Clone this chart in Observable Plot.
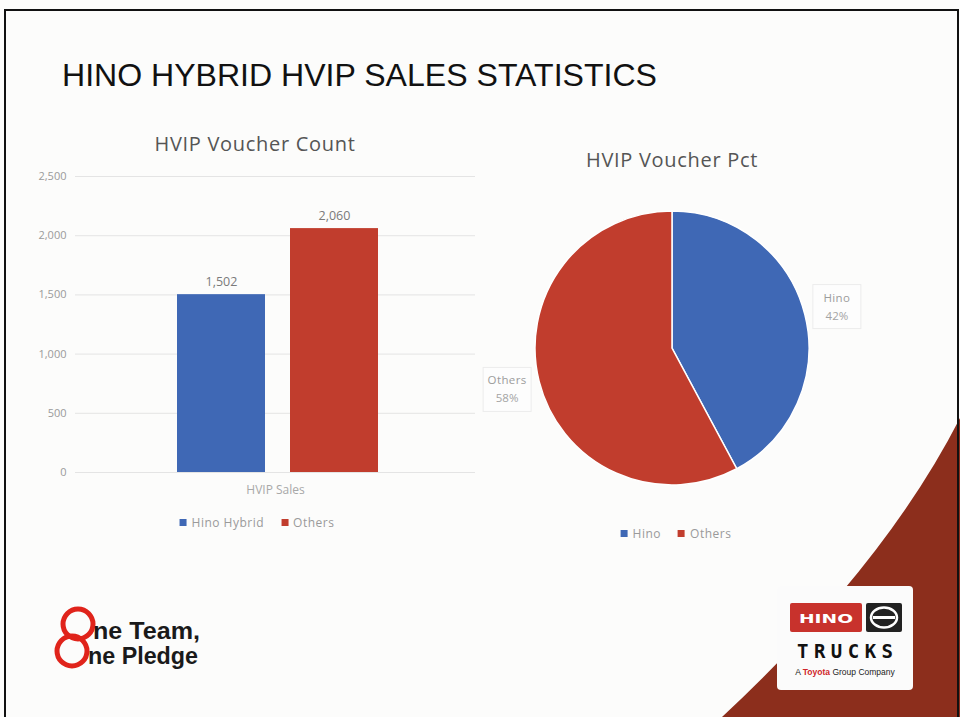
<!DOCTYPE html>
<html><head><meta charset="utf-8">
<script src="https://cdn.jsdelivr.net/npm/d3@7"></script>
<script src="https://cdn.jsdelivr.net/npm/@observablehq/plot@0.6"></script>
<style>
html,body{margin:0;padding:0;background:#fff;}
#page{position:relative;width:960px;height:717px;overflow:hidden;background:#fcfcfb;font-family:"Open Sans",sans-serif;}
.abs{position:absolute;}
.ctitle{position:absolute;color:#555;font-family:"Open Sans",sans-serif;font-size:20px;letter-spacing:0.7px;white-space:nowrap;transform:translateX(-50%);}
.legend{position:absolute;display:flex;align-items:center;font-size:12px;letter-spacing:0.5px;color:#9a9a9a;white-space:nowrap;transform:translateX(-50%);}
.legend .sw{display:inline-block;width:7px;height:7px;margin-right:5px;}
.legend .it{display:flex;align-items:center;margin-right:17px;}
.legend .it:last-child{margin-right:0;}
</style></head><body><div id="page"></div>
<script>
// ---- data ----
const categories = ["HVIP Sales"];
const series = ["Hino Hybrid", "Others"];
const counts = [1502, 2060];
const pieLabels = ["Hino", "Others"];
const pieValues = [1502, 2060];
const yTicks = [0, 500, 1000, 1500, 2000, 2500];
const colors = ["#3f68b5", "#c13d2d"];

const page = document.getElementById("page");

// ---- slide decorations (background) ----
const bg = d3.create("svg").attr("width", 960).attr("height", 717)
  .attr("class", "abs").style("left", "0px").style("top", "0px");
bg.append("path").attr("d", "M722 717 Q885 565 960 418 L960 717 Z").attr("fill", "#8c2e1c");
bg.append("rect").attr("x", 5).attr("y", 10).attr("width", 953).attr("height", 720)
  .attr("fill", "none").attr("stroke", "#111").attr("stroke-width", 2);
bg.append("text").attr("x", 62).attr("y", 86).attr("textLength", 595).attr("lengthAdjust", "spacingAndGlyphs")
  .attr("font-family", "Liberation Sans Narrow, Liberation Sans, Arial, sans-serif").attr("font-size", 31).attr("fill", "#111")
  .text("HINO HYBRID HVIP SALES STATISTICS");
// One Team, One Pledge logo
const lg = bg.append("g");
lg.append("circle").attr("cx", 78).attr("cy", 624).attr("r", 15).attr("fill", "none").attr("stroke", "#e0241b").attr("stroke-width", 5);
lg.append("circle").attr("cx", 72).attr("cy", 651).attr("r", 15).attr("fill", "none").attr("stroke", "#e0241b").attr("stroke-width", 5);
lg.append("text").attr("x", 93).attr("y", 639).attr("font-family", "Liberation Sans, Arial, sans-serif").attr("font-weight", "bold")
  .attr("font-size", 24).attr("fill", "#1a1a1a").attr("textLength", 107).attr("lengthAdjust", "spacingAndGlyphs").text("ne Team,");
lg.append("text").attr("x", 88).attr("y", 664).attr("font-family", "Liberation Sans, Arial, sans-serif").attr("font-weight", "bold")
  .attr("font-size", 24).attr("fill", "#1a1a1a").attr("textLength", 110).attr("lengthAdjust", "spacingAndGlyphs").text("ne Pledge");
// HINO TRUCKS logo
const hg = bg.append("g");
hg.append("rect").attr("x", 777).attr("y", 586).attr("width", 136).attr("height", 104).attr("rx", 4).attr("fill", "#fbfbfb");
hg.append("rect").attr("x", 790).attr("y", 603).attr("width", 72).attr("height", 29).attr("rx", 2).attr("fill", "#c8322c");
hg.append("text").attr("x", 826).attr("y", 623).attr("text-anchor", "middle").attr("font-family", "DejaVu Sans, sans-serif")
  .attr("font-weight", "bold").attr("font-size", 13).attr("fill", "#fff").attr("textLength", 54).attr("lengthAdjust", "spacingAndGlyphs").text("HINO");
hg.append("rect").attr("x", 866).attr("y", 603).attr("width", 36).attr("height", 29).attr("rx", 2).attr("fill", "#222");
hg.append("ellipse").attr("cx", 884).attr("cy", 617.5).attr("rx", 13).attr("ry", 10).attr("fill", "none").attr("stroke", "#fff").attr("stroke-width", 2.5);
hg.append("line").attr("x1", 873).attr("x2", 895).attr("y1", 617.5).attr("y2", 617.5).attr("stroke", "#fff").attr("stroke-width", 3);
hg.append("text").attr("x", 845).attr("y", 658).attr("text-anchor", "middle").attr("font-family", "DejaVu Sans Mono, monospace")
  .attr("font-weight", "bold").attr("font-size", 19).attr("fill", "#111").attr("textLength", 96).attr("lengthAdjust", "spacing").text("TRUCKS");
const tg = hg.append("text").attr("x", 845).attr("y", 675).attr("text-anchor", "middle").attr("font-family", "Liberation Sans, Arial, sans-serif")
  .attr("font-size", 8.5).attr("fill", "#222");
tg.append("tspan").text("A ");
tg.append("tspan").attr("fill", "#d0262a").attr("font-weight", "bold").text("Toyota");
tg.append("tspan").text(" Group Company");
page.appendChild(bg.node());

// ---- bar chart ----
const barData = series.map((s, i) => ({category: categories[0], series: s, count: counts[i]}));
const fmt = d3.format(",");
const bar = Plot.plot({
  width: 480, height: 560,
  marginLeft: 75, marginRight: 5, marginTop: 176, marginBottom: 88,
  style: {background: "transparent", fontFamily: "Open Sans, sans-serif", fontSize: "11px", color: "#9a9a9a", overflow: "visible"},
  fx: {padding: 0, label: null, axis: null},
  x: {domain: series, paddingInner: 0.221, paddingOuter: 0.88, align: 0.512, axis: null},
  y: {domain: [0, 2500], axis: null},
  color: {domain: series, range: colors},
  marks: [
    Plot.gridY(yTicks, {stroke: "#e4e4e4", strokeOpacity: 1}),
    Plot.axisY(yTicks, {tickSize: 0, tickPadding: 9, tickFormat: fmt, label: null, fill: "#9a9a9a"}),
    Plot.axisFx(categories, {anchor: "bottom", tickSize: 0, tickPadding: 13, label: null, fill: "#a8a8a8", fontSize: 12, style: {letterSpacing: "0.8px"}}),
    Plot.barY(barData, {fx: "category", x: "series", y: "count", fill: "series"}),
    Plot.text(barData, {fx: "category", x: "series", y: "count", text: d => fmt(d.count), dy: -13, fill: "#7a7a7a", fontSize: 12.5})
  ]
});
bar.classList.add("abs");
bar.style.left = "0px"; bar.style.top = "0px";
page.appendChild(bar);

// ---- pie chart ----
const pieData = pieLabels.map((l, i) => ({label: l, value: pieValues[i]}));
const total = d3.sum(pieValues);
const arcs = d3.pie().sort(null).value(d => d.value)(pieData);
const pieColor = Plot.scale({color: {type: "ordinal", domain: pieLabels, range: colors}});
const R = 137;
const arcGen = d3.arc().innerRadius(0).outerRadius(R);
const labelArc = d3.arc().innerRadius(170).outerRadius(170);
const pctFmt = d3.format(".0%");
const pie = Plot.plot({
  width: 400, height: 420,
  style: {background: "transparent", overflow: "visible"},
  marks: [
    (index, scales, values, dims) => {
      const g = d3.create("svg:g").attr("transform", `translate(${dims.width / 2},${dims.height / 2 - 2})`);
      g.selectAll("path").data(arcs).join("path")
        .attr("d", arcGen).attr("fill", d => pieColor.apply(d.data.label))
        .attr("stroke", "#fff").attr("stroke-width", 1.5);
      const lab = g.selectAll("g.lab").data(arcs).join("g").attr("class", "lab")
        .attr("transform", d => `translate(${labelArc.centroid(d)})`);
      lab.append("rect").attr("x", -24).attr("y", -22).attr("width", 48).attr("height", 44)
        .attr("fill", "#fdfdfd").attr("stroke", "#ececec");
      lab.append("text").attr("text-anchor", "middle").attr("y", -5)
        .attr("font-family", "Open Sans, sans-serif").attr("font-size", 11.5).attr("letter-spacing", "0.4px").attr("fill", "#9c9c9c")
        .text(d => d.data.label);
      lab.append("text").attr("text-anchor", "middle").attr("y", 13)
        .attr("font-family", "Open Sans, sans-serif").attr("font-size", 11.5).attr("fill", "#a4a4a4")
        .text(d => pctFmt(d.data.value / total));
      return g.node();
    }
  ]
});
pie.classList.add("abs");
pie.style.left = "472px"; pie.style.top = "140px";
page.appendChild(pie);

// ---- titles ----
function addTitle(text, x, y) {
  const d = document.createElement("div");
  d.className = "ctitle"; d.textContent = text;
  d.style.left = x + "px"; d.style.top = y + "px";
  page.appendChild(d);
}
addTitle("HVIP Voucher Count", 255, 130);
addTitle("HVIP Voucher Pct", 672, 146);

// ---- legends ----
function addLegend(labels, x, y) {
  const d = document.createElement("div");
  d.className = "legend"; d.style.left = x + "px"; d.style.top = y + "px";
  labels.forEach((l, i) => {
    const it = document.createElement("span"); it.className = "it";
    const sw = document.createElement("span"); sw.className = "sw"; sw.style.background = colors[i];
    it.appendChild(sw); it.appendChild(document.createTextNode(l));
    d.appendChild(it);
  });
  page.appendChild(d);
}
addLegend(series, 257, 514);
addLegend(pieLabels, 676, 525);
</script>
</body></html>
